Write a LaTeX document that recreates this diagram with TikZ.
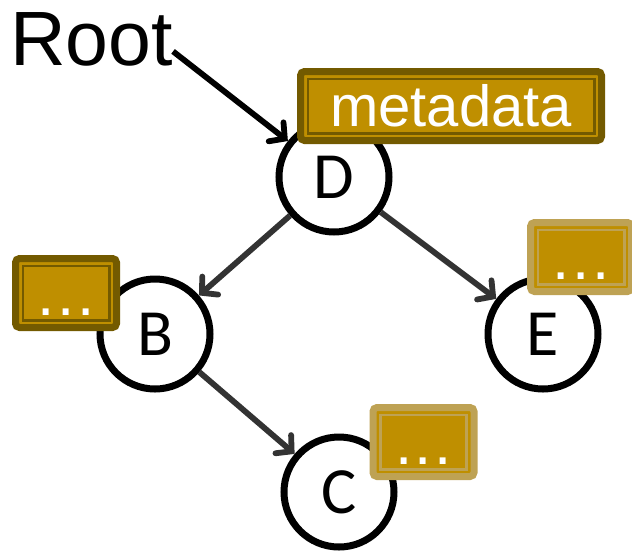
\documentclass[tikz,border=0pt]{standalone}
\usepackage{fontspec}
\setmainfont{Liberation Sans}
\newfontfamily\calib{Carlito}
\usetikzlibrary{arrows.meta}
\definecolor{gold}{RGB}{191,143,0}
\definecolor{darkgold}{RGB}{115,90,0}
\definecolor{lightgold}{RGB}{190,162,84}
\definecolor{edgegray}{RGB}{51,51,51}
\newcommand\tagdots{\smash{\raisebox{-22pt}{.\kern2.6pt.\kern2.6pt.}}}
\begin{document}
\begin{tikzpicture}[x=1pt,y=-1pt,
  treenode/.style={circle, draw=black, line width=7pt, fill=white, minimum size=110pt, inner sep=0pt,
    font=\calib\fontsize{66}{66}\selectfont},
  link/.style={draw=edgegray, line width=5.8pt, line cap=butt,
    -{Straight Barb[length=11pt,width=24pt,line cap=round]}},
  rootlink/.style={link, draw=black},
  tagbox/.style={rectangle, rounded corners=4pt, fill=gold, draw=#1, line width=7pt, inner sep=0pt,
    minimum height=69pt, text=white,
    path picture={\draw[line width=2.6pt, #1, sharp corners]
      ([shift={(7.3pt,-7.3pt)}]path picture bounding box.north west) rectangle
      ([shift={(-7.3pt,7.3pt)}]path picture bounding box.south east);}},
  smallbox/.style={tagbox=#1, minimum width=101pt, font=\fontsize{62}{62}\selectfont}
]
\useasboundingbox (0,0) rectangle (632,550);

% tree nodes
\node[treenode] (D) at (334,177) {D};
\node[treenode] (B) at (155,334) {B};
\node[treenode] (E) at (543,334) {E};
\node[treenode] (C) at (339,492) {C};

% root label
\node[anchor=base west, inner sep=0pt, font=\fontsize{77}{77}\selectfont] (root) at (10,65) {Root};

% connectors
\draw[rootlink] ([shift={(0,12.5)}]root.east) -- (D);
\draw[link] (D) -- (B);
\draw[link] (D) -- (E);
\draw[link] (B) -- (C);

% metadata boxes
\node[tagbox=darkgold, minimum width=301pt, font=\fontsize{58}{58}\selectfont] (meta) at (451,106) {metadata};
\node[smallbox=darkgold] (bmeta) at (66,293) {\tagdots};
\node[smallbox=lightgold] (emeta) at (581,257) {\tagdots};
\node[smallbox=lightgold] (cmeta) at (423.5,442) {\tagdots};
\end{tikzpicture}
\end{document}
